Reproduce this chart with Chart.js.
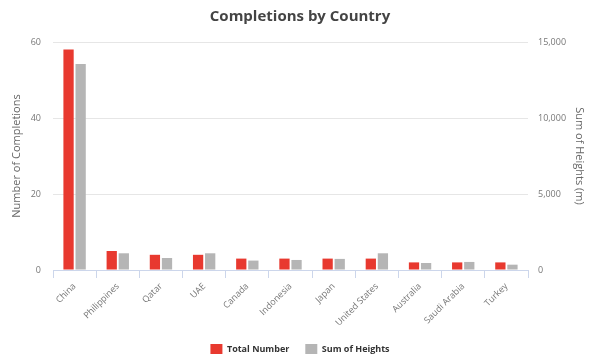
<!DOCTYPE html>
<html><head><meta charset="utf-8">
<script src="https://cdn.jsdelivr.net/npm/chart.js@4"></script>
<style>html,body{margin:0;padding:0;background:#fff}#wrap{width:600px;height:359px}</style>
</head><body><div id="wrap"><canvas id="c"></canvas></div>
<script>
const categories = ["China","Philippines","Qatar","UAE","Canada","Indonesia","Japan","United States","Australia","Saudi Arabia","Turkey"];
const totalNumber = [58,5,4,4,3,3,3,3,2,2,2];
const sumOfHeights = [13550,1100,790,1100,620,660,730,1100,460,530,350];
const leftTicks = [0,20,40,60];
const rightTicks = [0,5000,10000,15000];

const tickFont = {family:"'Open Sans', sans-serif", size:9};
new Chart(document.getElementById('c'), {
  type:'bar',
  data:{labels:categories, datasets:[
    {label:'Total Number', data:totalNumber, backgroundColor:'#e8392f', yAxisID:'y', categoryPercentage:0.56, barPercentage:0.85},
    {label:'Sum of Heights', data:sumOfHeights, backgroundColor:'#b5b5b5', yAxisID:'y1', categoryPercentage:0.56, barPercentage:0.85}
  ]},
  options:{
    responsive:true, maintainAspectRatio:false, animation:false,
    layout:{padding:{left:0,right:0,top:0,bottom:-5}},
    plugins:{
      title:{display:true, text:'Completions by Country', color:'#444', font:{family:"'Open Sans', sans-serif", size:15, weight:'bold'}, padding:{top:8,bottom:16}},
      legend:{position:'bottom', labels:{boxWidth:12, boxHeight:10, color:'#333', font:{family:"'Open Sans', sans-serif", size:9, weight:'bold'}, padding:16}},
      tooltip:{enabled:false}
    },
    scales:{
      x:{grid:{display:true, drawOnChartArea:false, tickLength:8, color:'#ccd6eb', offset:true}, border:{color:'#ccd6eb'},
         ticks:{color:'#777', font:tickFont, maxRotation:45, minRotation:45, autoSkip:false},
         afterFit(s){s.height=58;}},
      y:{position:'left', min:0, max:60, afterBuildTicks(s){s.ticks=leftTicks.map(v=>({value:v}));},
         grid:{color:'#e6e6e6', drawTicks:false}, border:{display:false},
         ticks:{color:'#777', font:tickFont, padding:12},
         title:{display:true, text:'Number of Completions', color:'#666', font:{family:"'Open Sans', sans-serif", size:11}, padding:{top:10,bottom:0}},
         afterFit(s){s.width=53;}},
      y1:{position:'right', min:0, max:15000, afterBuildTicks(s){s.ticks=rightTicks.map(v=>({value:v}));},
         grid:{drawOnChartArea:false, drawTicks:false}, border:{display:false},
         ticks:{color:'#777', font:tickFont, padding:10, callback:v=>v.toLocaleString('en-US')},
         title:{display:true, text:'Sum of Heights (m)', color:'#666', font:{family:"'Open Sans', sans-serif", size:11}, padding:{top:14,bottom:0}},
         afterFit(s){s.width=72;}}
    }
  }
});
</script></body></html>
